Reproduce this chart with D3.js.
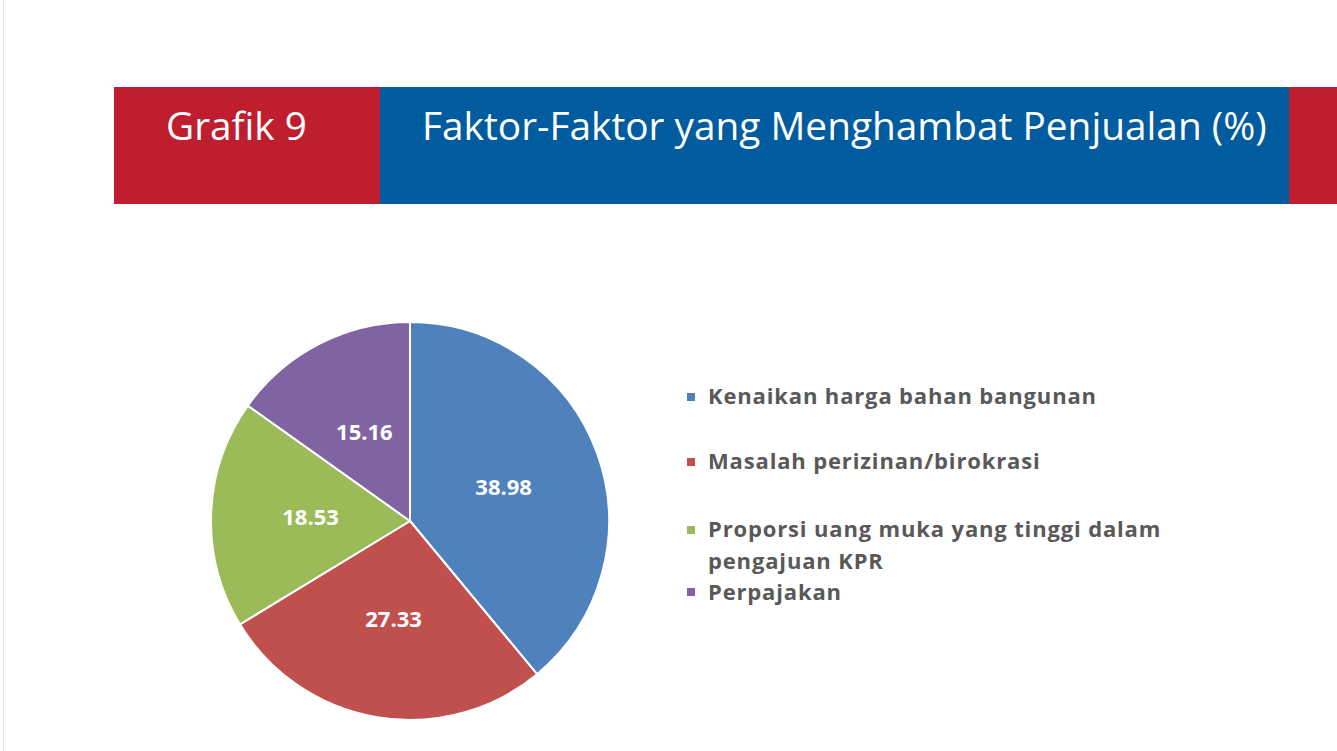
<!DOCTYPE html>
<html>
<head>
<meta charset="utf-8">
<script src="https://cdn.jsdelivr.net/npm/d3@7"></script>
<style>
  html, body { margin: 0; padding: 0; background: #fff; }
  svg { display: block; }
</style>
</head>
<body>
<div id="chart"></div>
<script>
// data
var categories = [
  'Kenaikan harga bahan bangunan',
  'Masalah perizinan/birokrasi',
  'Proporsi uang muka yang tinggi dalam pengajuan KPR',
  'Perpajakan'
];
var legendLines = [
  ['Kenaikan harga bahan bangunan'],
  ['Masalah perizinan/birokrasi'],
  ['Proporsi uang muka yang tinggi dalam', 'pengajuan KPR'],
  ['Perpajakan']
];
var values = [38.98, 27.33, 18.53, 15.16];
var colors = ['#4f81bd', '#c0504d', '#9bbb59', '#8064a2'];
var headerLabel = 'Grafik 9';
var headerTitle = 'Faktor-Faktor yang Menghambat Penjualan (%)';

var width = 1337, height = 751;

var svg = d3.select('#chart')
  .append('svg')
  .attr('width', width)
  .attr('height', height);

// faint page edge on the left
svg.append('line')
  .attr('x1', 3.5).attr('x2', 3.5)
  .attr('y1', 0).attr('y2', height)
  .attr('stroke', '#e4e4e4')
  .attr('stroke-width', 1);

// header band
var header = svg.append('g');
header.append('rect')
  .attr('x', 114).attr('y', 87)
  .attr('width', 266).attr('height', 117)
  .attr('fill', '#be1e2d');
header.append('rect')
  .attr('x', 380).attr('y', 87)
  .attr('width', 909).attr('height', 117)
  .attr('fill', '#005b9f');
header.append('rect')
  .attr('x', 1289).attr('y', 87)
  .attr('width', 48).attr('height', 117)
  .attr('fill', '#be1e2d');

function fitText(sel, targetWidth) {
  var size = parseFloat(sel.attr('font-size'));
  var w = sel.node().getComputedTextLength();
  if (w > 0) {
    sel.attr('font-size', (size * targetWidth / w).toFixed(2));
  }
}

var lbl = header.append('text')
  .attr('x', 166).attr('y', 140)
  .attr('font-family', 'Open Sans, sans-serif')
  .attr('font-size', 38)
  .attr('fill', '#fff')
  .text(headerLabel);
fitText(lbl, 141);

var ttl = header.append('text')
  .attr('x', 422).attr('y', 140)
  .attr('font-family', 'Open Sans, sans-serif')
  .attr('font-size', 38)
  .attr('fill', '#fff')
  .text(headerTitle);
fitText(ttl, 845);

// pie
var cx = 410, cy = 521, radius = 199;

var pie = d3.pie()
  .sort(null)
  .value(function (d) { return d; });

var arc = d3.arc()
  .innerRadius(0)
  .outerRadius(radius);

var arcs = pie(values);

var g = svg.append('g')
  .attr('transform', 'translate(' + cx + ',' + cy + ')');

g.selectAll('path.slice')
  .data(arcs)
  .enter()
  .append('path')
  .attr('class', 'slice')
  .attr('d', arc)
  .attr('fill', function (d, i) { return colors[i]; })
  .attr('stroke', '#fff')
  .attr('stroke-width', 2)
  .attr('stroke-linejoin', 'round');

g.selectAll('text.val')
  .data(arcs)
  .enter()
  .append('text')
  .attr('class', 'val')
  .attr('transform', function (d) {
    var c = arc.centroid(d);
    return 'translate(' + c[0] + ',' + c[1] + ')';
  })
  .attr('text-anchor', 'middle')
  .attr('dy', '0.36em')
  .attr('font-family', 'Open Sans, sans-serif')
  .attr('font-weight', 700)
  .attr('font-size', 22)
  .attr('fill', '#fff')
  .text(function (d) { return d.data.toFixed(2); });

// legend
var legendX = 687, textX = 708;
var markerY = [397, 462, 530, 592];
var baseY = [404, 469, 537, 600];
var lineGap = 32;

var legend = svg.append('g');
var items = legend.selectAll('g.item')
  .data(categories)
  .enter()
  .append('g')
  .attr('class', 'item');

items.append('rect')
  .attr('x', legendX)
  .attr('y', function (d, i) { return markerY[i] - 4; })
  .attr('width', 8).attr('height', 8)
  .attr('fill', function (d, i) { return colors[i]; });

var texts = items.append('text')
  .attr('x', textX)
  .attr('y', function (d, i) { return baseY[i]; })
  .attr('font-family', 'Open Sans, sans-serif')
  .attr('font-weight', 700)
  .attr('font-size', 22)
  .attr('fill', '#595959');

texts.selectAll('tspan')
  .data(function (d, i) { return legendLines[i]; })
  .enter()
  .append('tspan')
  .attr('x', textX)
  .attr('dy', function (d, j) { return j === 0 ? 0 : lineGap; })
  .text(function (d) { return d; });

// adjust letter spacing so the first line spans as in the reference
var first = texts.filter(function (d, i) { return i === 0; });
var w0 = first.node().getComputedTextLength();
var n0 = legendLines[0][0].length;
if (w0 > 0) {
  texts.attr('letter-spacing', ((389 - w0) / n0).toFixed(2));
}
</script>
</body>
</html>
